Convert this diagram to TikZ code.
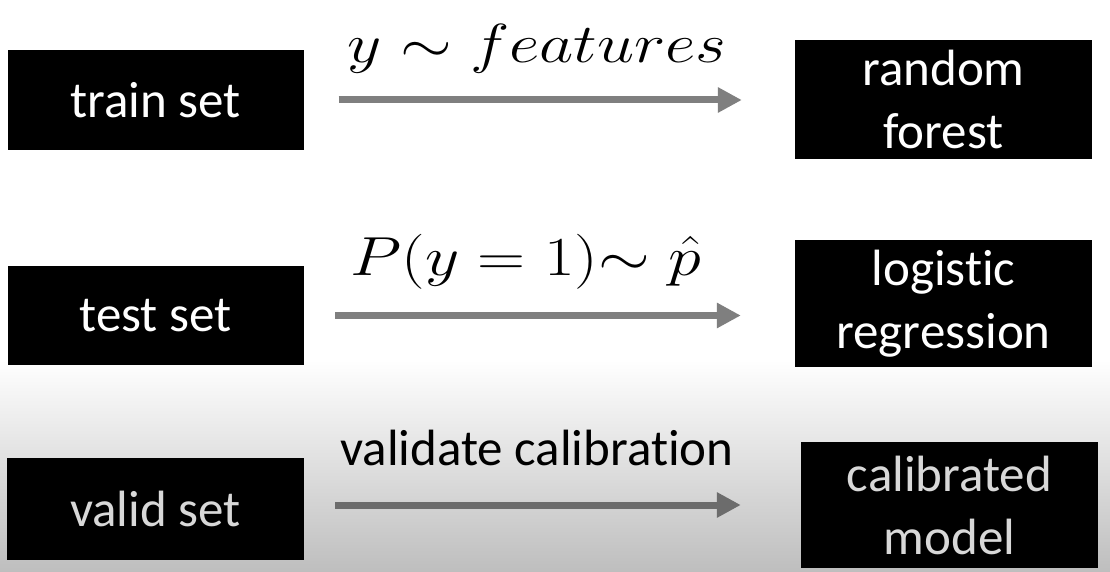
\documentclass[tikz,border=0pt]{standalone}
\usepackage{fix-cm}
\usepackage{fontspec}
\setmainfont{Carlito}[Ligatures=NoCommon]
\usepackage{graphicx}
\usetikzlibrary{arrows.meta,positioning}

\definecolor{arrowgray}{HTML}{7F7F7F}
\definecolor{arrowdark}{HTML}{6C6C6C}
\definecolor{fadegray}{HTML}{BEBEBE}
\definecolor{dimwhite}{HTML}{D8D8D8}

\tikzset{
	box/.style={fill=black, text=white, inner sep=0pt, align=center, font=\fontsize{51}{63}\selectfont},
	flow/.style={draw=arrowgray, line width=7pt, -{Triangle[length=24pt,width=24pt]}},
	lbl/.style={anchor=base, inner sep=0pt, font=\fontsize{51}{60}\selectfont},
	mathlbl/.style={anchor=base, inner sep=0pt, font=\fontsize{55}{60}\selectfont},
}

\def\lcol{155.5}
\def\rcol{943.5}

\begin{document}
\begin{tikzpicture}[x=1pt, y=-1pt]

	%%% Canvas
	\useasboundingbox (0,0) rectangle (1110,572);
	\fill[white] (0,0) rectangle (1110,572);
	\shade[top color=white, bottom color=fadegray] (0,360) rectangle (1110,572);

	%%% Data sets
	\node[box, minimum width=296, minimum height=100] (train_set) at (\lcol,100) {train set};
	\node[box, minimum width=296, minimum height=99] (test_set) at (\lcol,315.5) {test set};
	\node[box, text=dimwhite, minimum width=297, minimum height=102] (valid_set) at (\lcol,509) {valid set};

	%%% Models
	\node[box, minimum width=297, minimum height=119] (random_forest) at (\rcol,99.5) {random\\forest};
	\node[box, minimum width=297, minimum height=127] (logistic_reg) at (\rcol,303.5) {logistic\\regression};
	\node[box, text=dimwhite, minimum width=297, minimum height=126] (calibrated_model) at (949.5,505) {calibrated\\model};

	%%% Arrows
	\draw[flow, shorten <=35pt, shorten >=53pt] (train_set.east) -- (train_set.east -| random_forest.west);
	\draw[flow, shorten <=31.5pt, shorten >=54pt] (test_set.east) -- (test_set.east -| logistic_reg.west);
	\draw[flow, draw=arrowdark, shorten <=31pt, shorten >=60pt] ([yshift=4pt]valid_set.east) -- ([yshift=4pt]valid_set.east -| calibrated_model.west);

	%%% Labels
	\node[mathlbl] (lbl_features) at (537,63) {\scalebox{1.21}[1]{$y\sim features$}};
	\node[mathlbl] (lbl_prob) at (526,275) {\scalebox{1.21}[1]{$P(y=1){\sim}\;\hat{p}$}};
	\node[lbl] (lbl_validate) at (537,465) {validate calibration};

\end{tikzpicture}
\end{document}
